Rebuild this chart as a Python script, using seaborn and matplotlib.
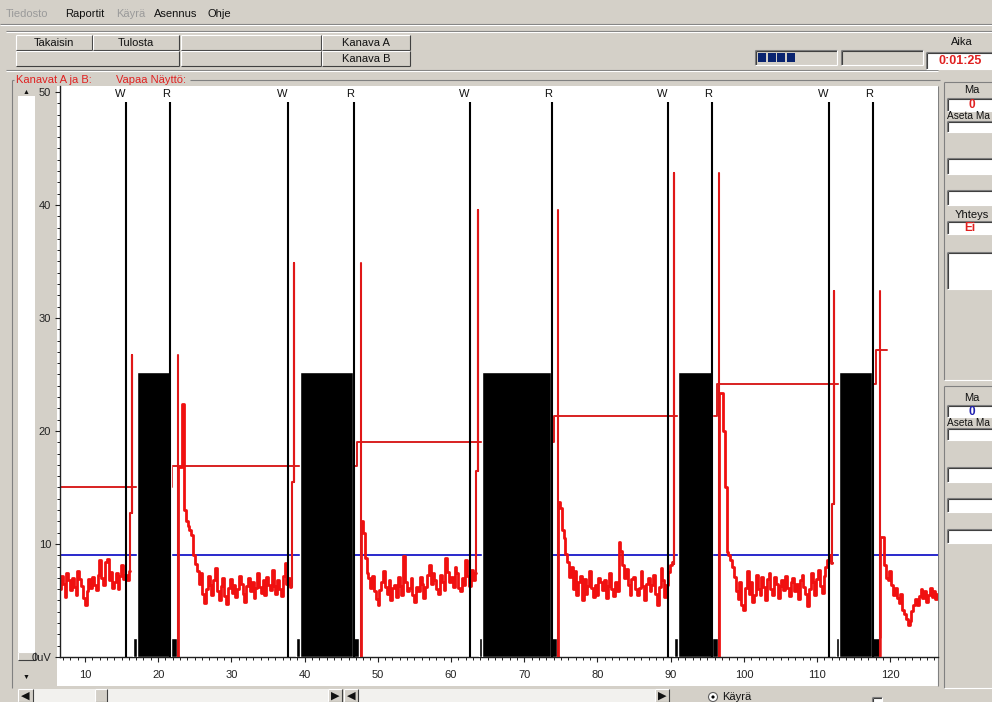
import matplotlib
matplotlib.use("Agg")
import matplotlib.pyplot as plt
from matplotlib.patches import Rectangle
from matplotlib.ticker import MultipleLocator
import pandas as pd
import seaborn as sns

# ---------------- recorded session ----------------
# cycle markers (seconds)
w_marks = [15.6, 37.7, 62.6, 89.6, 111.6]
r_marks = [21.6, 46.75, 73.8, 95.66, 117.65]

# contraction blocks (tall) and their base blocks (low)
load_start = [17.1, 39.4, 64.2, 91.0, 113.0]
load_end = [21.75, 46.6, 73.7, 95.66, 117.5]
load_level = 25.2
base_start = [16.55, 38.8, 63.8, 90.5, 112.6]
base_end = [22.6, 47.4, 74.5, 96.5, 118.6]
base_level = 1.7

# set-point line (thin red)
level_values = [15.0, 16.9, 19.0, 21.3, 24.2, 27.2, 27.2]
level_times = [6.6, 21.9, 47.2, 74.1, 96.3, 118.1, 119.6]

# spikes at each W / R transition
rise_x = [16.45, 38.5, 63.7, 90.5, 112.3]
rise_mid = [12.7, 15.5, 16.5, 8.2, 13.5]
spike_peak = [26.7, 34.9, 39.6, 42.8, 32.4]
drop_x = [22.75, 47.7, 74.6, 96.6, 118.6]

threshold = 9.0

# EMG trace, sampled every 0.25 s
sample_step = 0.25
trace_start = [6.6, 22.65, 47.6, 74.5, 96.5, 118.5]
trace_0 = [6.0, 7.2, 6.5, 5.3, 7.4, 6.8, 5.9, 7.0, 6.2, 5.5,
           7.6, 6.9, 6.3, 5.2, 4.6, 5.8, 6.9, 6.1, 7.1, 6.4,
           5.9, 7.3, 8.6, 7.0, 6.4, 8.4, 8.7, 6.8, 7.5, 6.1,
           6.6, 7.4, 6.0, 7.2, 8.1, 6.9, 7.3, 6.8, 7.6]
trace_1 = [0.0, 16.8, 16.8, 22.4, 13.0, 12.0, 11.6, 11.2, 10.8, 9.0,
           8.2, 7.6, 6.5, 7.4, 5.6, 4.8, 6.0, 7.2, 6.4, 5.5,
           6.8, 7.9, 5.8, 5.0, 6.3, 7.0, 5.4, 4.7, 6.1, 6.9,
           5.7, 6.4, 5.3, 6.0, 7.2, 6.5, 5.6, 4.9, 6.3, 7.0,
           5.8, 6.6, 5.2, 6.1, 7.4, 6.2, 5.7, 6.8, 5.5, 7.1,
           6.4, 5.9, 7.7, 6.3, 5.6, 6.8, 6.0, 5.4, 7.2, 8.3,
           6.5, 7.0, 6.2]
trace_2 = [0.0, 12.0, 11.0, 8.8, 7.4, 7.0, 6.1, 7.2, 5.8, 5.1,
           4.6, 5.9, 6.6, 7.6, 6.2, 5.6, 6.8, 5.0, 6.1, 6.4,
           5.3, 7.1, 6.3, 5.5, 8.9, 6.6, 5.8, 6.1, 7.0, 5.5,
           4.9, 6.2, 5.8, 7.1, 6.5, 5.2, 6.2, 7.3, 8.1, 6.5,
           7.4, 6.8, 6.0, 5.6, 7.3, 6.6, 5.9, 8.8, 7.5, 6.6,
           7.1, 6.2, 8.0, 7.4, 6.1, 5.8, 7.0, 6.4, 8.6, 7.2,
           6.3, 7.7, 6.8, 7.4]
trace_3 = [0.0, 13.7, 13.2, 11.2, 10.5, 9.1, 8.4, 7.1, 8.0, 6.0,
           7.6, 5.5, 6.6, 7.2, 5.0, 6.9, 5.6, 6.3, 7.6, 6.1,
           5.3, 6.4, 5.5, 7.0, 6.6, 5.9, 6.8, 5.2, 6.3, 7.4,
           6.0, 5.4, 6.6, 5.8, 10.2, 9.4, 8.1, 7.0, 7.8, 6.4,
           5.5, 6.9, 7.1, 6.0, 5.5, 6.1, 7.6, 6.3, 5.0, 6.5,
           7.0, 5.8, 6.4, 7.3, 5.6, 4.6, 6.2, 7.9, 6.8, 5.3,
           6.4, 7.5, 8.1, 8.4]
trace_4 = [0.0, 23.4, 23.4, 20.0, 15.0, 9.3, 9.0, 8.6, 8.0, 7.1,
           5.8, 5.1, 6.6, 4.6, 4.2, 6.1, 7.6, 5.6, 6.6, 4.9,
           5.5, 7.3, 6.0, 5.5, 7.1, 6.2, 5.0, 6.9, 7.4, 6.0,
           5.5, 7.1, 6.5, 5.2, 6.3, 6.8, 5.9, 7.2, 6.1, 5.4,
           6.6, 7.0, 5.8, 6.5, 5.1, 6.8, 7.3, 6.2, 5.6, 4.5,
           6.0, 7.4, 6.6, 5.5, 6.9, 7.7, 6.3, 5.7, 7.2, 8.0,
           8.6, 9.0, 8.3]
trace_5 = [0.0, 10.6, 10.6, 8.1, 7.0, 6.8, 7.6, 6.4, 5.5, 6.1,
           5.2, 4.8, 5.6, 4.2, 3.8, 3.4, 2.8, 3.2, 4.1, 4.6,
           5.1, 4.6, 5.4, 6.0, 5.2, 5.8, 4.9, 5.5, 6.1, 5.3,
           5.8, 5.1, 5.6]
traces = [trace_0, trace_1, trace_2, trace_3, trace_4, trace_5]

x_ticks = [10, 20, 30, 40, 50, 60, 70, 80, 90, 100, 110, 120]
y_ticks = [0, 10, 20, 30, 40, 50]
y_tick_labels = ["0uV", "10", "20", "30", "40", "50"]

# ---------------- build tables ----------------
rows = []
for k, (t0, vals) in enumerate(zip(trace_start, traces)):
    for i, v in enumerate(vals):
        rows.append({"seg": k, "t": t0 + i * sample_step, "uv": v})
trace_df = pd.DataFrame(rows)

spike_rows = []
uid = 0
for k in range(len(w_marks)):
    seg = trace_df[trace_df.seg == k]
    t_end, v_end = seg.t.iloc[-1] + sample_step / 2, seg.uv.iloc[-1]
    pts = [(t_end, v_end), (rise_x[k] - 0.25, v_end), (rise_x[k] - 0.25, rise_mid[k]),
           (rise_x[k], rise_mid[k]), (rise_x[k], spike_peak[k]), (rise_x[k], rise_mid[k])]
    for t, v in pts:
        spike_rows.append({"u": uid, "t": t, "uv": v})
    uid += 1
    for t, v in [(drop_x[k], 0.0), (drop_x[k], spike_peak[k])]:
        spike_rows.append({"u": uid, "t": t, "uv": v})
    uid += 1
spike_df = pd.DataFrame(spike_rows)

level_df = pd.DataFrame({"t": level_times, "uv": level_values})
thr_df = pd.DataFrame({"t": [6.6, 126.5], "uv": [threshold, threshold]})

# ---------------- figure ----------------
sns.set_style("white")
plt.rcParams["font.family"] = ["Liberation Sans", "DejaVu Sans"]
BG = "#d4d0c8"
W, H = 992, 702
fig = plt.figure(figsize=(W / 100, H / 100), dpi=100, facecolor=BG)

ui = fig.add_axes([0, 0, 1, 1], zorder=0)
ui.set_xlim(0, W)
ui.set_ylim(H, 0)
ui.axis("off")
ui.set_facecolor(BG)


def line(x0, y0, x1, y1, c, lw=0.8):
    ui.plot([x0, x1], [y0, y1], color=c, lw=lw, solid_capstyle="butt")


def raised(x, y, w, h, label=None, **kw):
    ui.add_patch(Rectangle((x, y), w, h, facecolor=BG, edgecolor="none"))
    line(x, y, x + w, y, "white")
    line(x, y, x, y + h, "white")
    line(x, y + h, x + w, y + h, "#404040")
    line(x + w, y, x + w, y + h, "#404040")
    if label:
        ui.text(x + w / 2, y + h / 2 + 0.5, label, ha="center", va="center",
                fontsize=8, color="#111111", **kw)


def sunken(x, y, w, h, fill="white"):
    ui.add_patch(Rectangle((x, y), w, h, facecolor=fill, edgecolor="none"))
    line(x, y, x + w, y, "#808080")
    line(x, y, x, y + h, "#808080")
    line(x + 1, y + 1, x + w, y + 1, "#404040")
    line(x + 1, y + 1, x + 1, y + h, "#404040")
    line(x, y + h, x + w, y + h, "white")
    line(x + w, y, x + w, y + h, "white")


# menu bar
for label, x, c in [("Tiedosto", 6, "#9a9a9a"), ("Raportit", 65, "#111111"),
                    ("Käyrä", 116, "#9a9a9a"), ("Asennus", 154, "#111111"),
                    ("Ohje", 207, "#111111")]:
    ui.text(x, 14, label, fontsize=8, color=c, va="center", ha="left")
line(0, 24, W, 24, "#808080")
line(0, 25, W, 25, "white")
line(6, 31, W, 31, "#808080")
line(6, 32, W, 32, "white")

# button strip
raised(16, 35, 76, 15, "Takaisin")
raised(93, 35, 86, 15, "Tulosta")
raised(181, 35, 140, 15)
raised(322, 35, 88, 15, "Kanava A")
raised(16, 51, 163, 15)
raised(181, 51, 140, 15)
raised(322, 51, 88, 15, "Kanava B")
line(6, 70, 938, 70, "#808080")
line(6, 71, 938, 71, "white")

# progress / time boxes
sunken(755, 50, 82, 15, fill=BG)
for i in range(4):
    ui.add_patch(Rectangle((758 + i * 9.5, 53), 8, 9, facecolor="#0a2470", edgecolor="none"))
sunken(841, 50, 82, 15, fill=BG)
ui.text(962, 42, "Aika", fontsize=8, ha="center", va="center", color="#111111")
sunken(926, 52, 70, 17)
ui.text(960, 61, "0:01:25", fontsize=9, ha="center", va="center", color="#e02020",
        fontweight="bold")

# chart group frame
line(12, 80, 14, 80, "#808080")
line(190, 80, 940, 80, "#808080")
line(12, 80, 12, 688, "#808080")
ui.text(16, 80, "Kanavat A ja B:", fontsize=8, color="#e02020", va="center", ha="left")
ui.text(116, 80, "Vapaa Näyttö:", fontsize=8, color="#e02020", va="center", ha="left")

# white chart panel and vertical scroll column
ui.add_patch(Rectangle((57, 86), 881, 600, facecolor="white", edgecolor="none"))
line(938, 86, 938, 686, "#808080")
ui.add_patch(Rectangle((18, 96), 17, 556, facecolor="white", edgecolor="none"))
raised(18, 652, 17, 8)
ui.text(26, 92, "▲", fontsize=5, ha="center", va="center", color="#111111")
ui.text(26, 677, "▼", fontsize=5, ha="center", va="center", color="#111111")

# right-hand panels
line(944, 82, 944, 380, "#808080")
line(944, 82, W, 82, "#808080")
line(944, 380, W, 380, "white")
ui.text(972, 90, "Ma", fontsize=8, ha="center", va="center", color="#111111")
sunken(947, 98, 50, 13)
ui.text(972, 105, "0", fontsize=8.5, ha="center", va="center", color="#e02020",
        fontweight="bold")
ui.text(947, 116, "Aseta Ma", fontsize=7.3, ha="left", va="center", color="#111111")
sunken(947, 121, 50, 11)
sunken(947, 158, 50, 16)
sunken(947, 190, 50, 15)
ui.text(972, 215, "Yhteys", fontsize=8, ha="center", va="center", color="#111111")
sunken(947, 221, 50, 13)
ui.text(970, 228, "Ei", fontsize=8.5, ha="center", va="center", color="#e02020",
        fontweight="bold")
sunken(947, 252, 50, 37)

line(944, 386, 944, 688, "#808080")
line(944, 386, W, 386, "#808080")
line(944, 688, W, 688, "white")
ui.text(972, 398, "Ma", fontsize=8, ha="center", va="center", color="#111111")
sunken(947, 405, 50, 12)
ui.text(972, 412, "0", fontsize=8.5, ha="center", va="center", color="#1f1fb0",
        fontweight="bold")
ui.text(947, 423, "Aseta Ma", fontsize=7.3, ha="left", va="center", color="#111111")
sunken(947, 428, 50, 12)
sunken(947, 467, 50, 15)
sunken(947, 498, 50, 14)
sunken(947, 529, 50, 14)

# bottom scroll bars
ui.add_patch(Rectangle((18, 689), 324, 13, facecolor="#f2f1ee", edgecolor="none"))
raised(18, 689, 15, 13, "◀")
raised(95, 689, 12, 13)
raised(328, 689, 14, 13, "▶")
ui.add_patch(Rectangle((344, 689), 325, 13, facecolor="#f2f1ee", edgecolor="none"))
raised(344, 689, 14, 13, "◀")
raised(655, 689, 14, 13, "▶")
ui.add_patch(plt.Circle((713, 697), 4.5, facecolor="white", edgecolor="#606060", lw=0.8))
ui.add_patch(plt.Circle((713, 697), 1.6, facecolor="black", edgecolor="none"))
ui.text(722, 697, "Käyrä", fontsize=8, ha="left", va="center", color="#111111")
sunken(872, 697, 10, 10)

# ---------------- chart ----------------
left, right, top, bottom = 60, 938, 86, 657
ax = fig.add_axes([left / W, (H - bottom) / H, (right - left) / W, (bottom - top) / H],
                  zorder=2)
ax.set_facecolor("white")
ax.set_xlim(6.6, 126.5)
ax.set_ylim(0, 50.53)

# threshold (blue)
sns.lineplot(data=thr_df, x="t", y="uv", ax=ax, color="#1818c8", lw=1.3,
             estimator=None, sort=False, zorder=2)
# set-point line (thin red)
sns.lineplot(data=level_df, x="t", y="uv", ax=ax, color="#d82020", lw=1.4,
             estimator=None, sort=False, drawstyle="steps-post", zorder=2)
# EMG trace (thick red)
sns.lineplot(data=trace_df, x="t", y="uv", units="seg", ax=ax, color="#f01010", lw=2.0,
             estimator=None, sort=False, drawstyle="steps-mid", zorder=2.5)

# contraction blocks
ax.bar(base_start, base_level, width=[e - s for s, e in zip(base_start, base_end)],
       align="edge", color="black", zorder=3)
ax.bar(load_start, load_level, width=[e - s for s, e in zip(load_start, load_end)],
       align="edge", color="black", zorder=3)

# transition spikes (thin red)
sns.lineplot(data=spike_df, x="t", y="uv", units="u", ax=ax, color="#e01818", lw=1.5,
             estimator=None, sort=False, zorder=4)

# W / R markers
ax.vlines(w_marks + r_marks, 0, 49.1, color="black", lw=1.5, zorder=4.5)
for t in w_marks:
    ax.text(t - 0.75, 49.85, "W", ha="center", va="center", fontsize=8, color="#111111")
for t in r_marks:
    ax.text(t - 0.55, 49.85, "R", ha="center", va="center", fontsize=8, color="#111111")

ax.set_xlabel("")
ax.set_ylabel("")
for s in ["top", "right"]:
    ax.spines[s].set_visible(False)
for s in ["left", "bottom"]:
    ax.spines[s].set_color("#202020")
    ax.spines[s].set_linewidth(1.0)
ax.set_xticks(x_ticks)
ax.set_xticklabels([str(v) for v in x_ticks])
ax.set_yticks(y_ticks)
ax.set_yticklabels(y_tick_labels)
ax.xaxis.set_minor_locator(MultipleLocator(1))
ax.yaxis.set_minor_locator(MultipleLocator(1))
ax.tick_params(axis="both", which="major", direction="out", length=3.5, width=0.8,
               color="#202020", labelsize=8, labelcolor="#222222")
ax.tick_params(axis="both", which="minor", direction="out", length=2.2, width=0.7,
               color="#202020")
ax.tick_params(axis="x", which="major", pad=6)
ax.tick_params(axis="y", which="major", pad=3)
ax.tick_params(left=True, bottom=True, which="both")
if ax.legend_:
    ax.legend_.remove()

fig.savefig("out.png", dpi=100, facecolor=BG)
